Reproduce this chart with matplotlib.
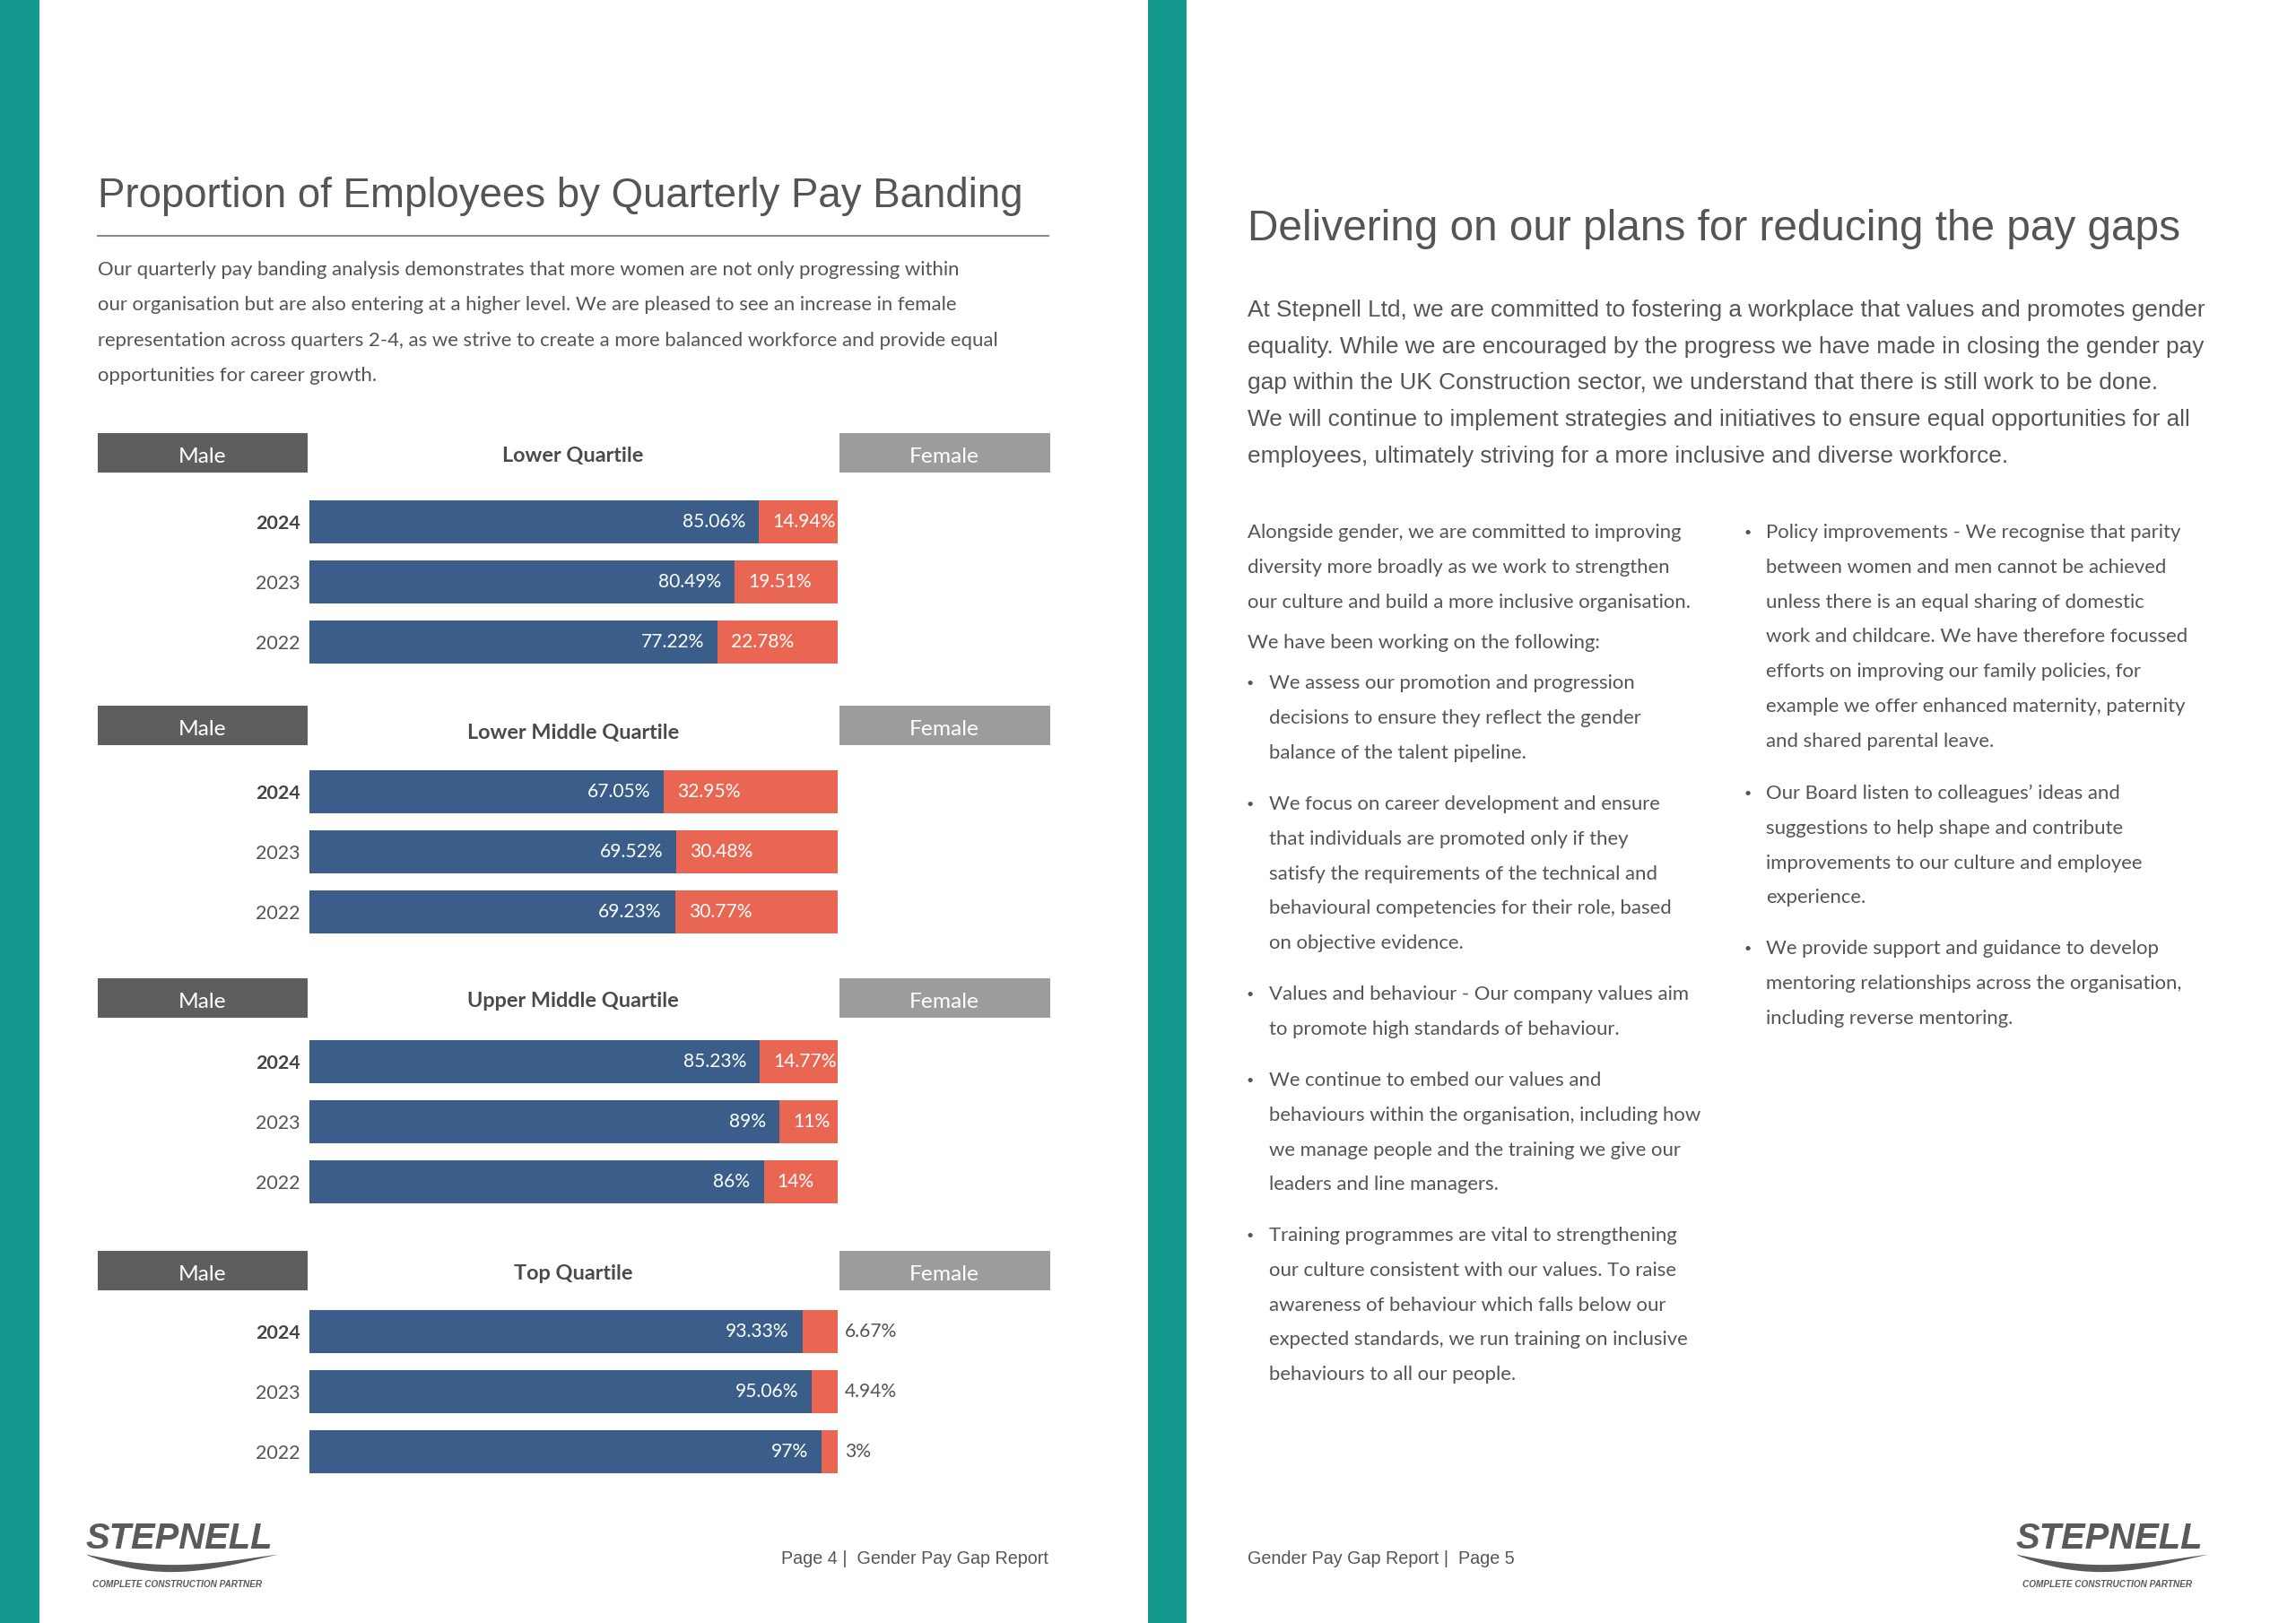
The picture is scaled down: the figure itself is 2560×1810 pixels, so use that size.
import matplotlib.pyplot as plt
from matplotlib.patches import Rectangle
import numpy as np

# data
quartiles = ["Lower Quartile", "Lower Middle Quartile", "Upper Middle Quartile", "Top Quartile"]
years = ["2024", "2023", "2022"]
male = [[85.06, 80.49, 77.22],
        [67.05, 69.52, 69.23],
        [85.23, 89, 86],
        [93.33, 95.06, 97]]
female = [[14.94, 19.51, 22.78],
          [32.95, 30.48, 30.77],
          [14.77, 11, 14],
          [6.67, 4.94, 3]]

def fmt(v):
    s = "%.2f" % v
    s = s.rstrip("0").rstrip(".")
    return s + "%"

# colours
TEAL = "#15998f"
BLUE = "#3a5e89"
CORAL = "#e96652"
MALEBOX = "#5e5e5e"
FEMBOX = "#9c9c9e"
GREY = "#555555"

W, H = 2560, 1810
fig = plt.figure(figsize=(25.6, 18.1), dpi=100)
page = fig.add_axes([0, 0, 1, 1])
page.set_xlim(0, W)
page.set_ylim(H, 0)
page.axis("off")

def pt(px):
    return px * 0.72

BODY = ["Lato", "DejaVu Sans"]
HEAD = ["Liberation Sans", "DejaVu Sans"]

# teal strips
page.add_patch(Rectangle((0, 0), 44, H, color=TEAL, lw=0))
page.add_patch(Rectangle((1280, 0), 43, H, color=TEAL, lw=0))

# ---------- left page ----------
page.text(109, 219, "Proportion of Employees by Quarterly Pay Banding", fontsize=pt(45.6),
          family=HEAD, color=GREY, va="center", ha="left")
page.plot([109, 1169], [263, 263], color="#8a8a8a", lw=1.5)

intro_left = [
    "Our quarterly pay banding analysis demonstrates that more women are not only progressing within",
    "our organisation but are also entering at a higher level. We are pleased to see an increase in female",
    "representation across quarters 2-4, as we strive to create a more balanced workforce and provide equal",
    "opportunities for career growth.",
]
for k, line in enumerate(intro_left):
    page.text(109, 301 + 39.3 * k, line, fontsize=pt(22.2), family=BODY, color=GREY, va="center")

bar_l, bar_r = 345, 934
for q, name in enumerate(quartiles):
    top = 483 + 304 * q
    page.add_patch(Rectangle((109, top), 234, 44, color=MALEBOX, lw=0))
    page.add_patch(Rectangle((936, top), 235, 44, color=FEMBOX, lw=0))
    page.text(226, top + 26, "Male", fontsize=pt(24.5), family=BODY, color="white", ha="center", va="center")
    page.text(1053, top + 26, "Female", fontsize=pt(24.5), family=BODY, color="white", ha="center", va="center")
    page.text(639, top + 25 + (5 if q == 1 else 0), name, fontsize=pt(23.5), family=BODY, weight="bold",
              color="#4a4a4a", ha="center", va="center")

    bt = 558 + 301 * q - 9.5
    ax = fig.add_axes([bar_l / W, 1 - (bt + 201) / H, (bar_r - bar_l) / W, 201 / H])
    y = np.arange(len(years))
    ax.barh(y, male[q], height=48 / 67, color=BLUE, lw=0)
    ax.barh(y, female[q], left=male[q], height=48 / 67, color=CORAL, lw=0)
    ax.set_xlim(0, 100)
    ax.set_ylim(2.5, -0.5)
    for s in ax.spines.values():
        s.set_visible(False)
    ax.set_xticks([])
    ax.set_yticks(y, years)
    ax.tick_params(axis="y", length=0, pad=pt(10), labelsize=pt(21.5), labelcolor=GREY)
    for k, lab in enumerate(ax.get_yticklabels()):
        lab.set_family(BODY)
        if k == 0:
            lab.set_fontweight("bold")
            lab.set_color("#444444")
    ax.patch.set_alpha(0)
    for k in range(len(years)):
        ax.annotate(fmt(male[q][k]), (male[q][k], k), xytext=(-pt(15), 0), textcoords="offset points",
                    ha="right", va="center", color="white", fontsize=pt(21), family=BODY)
        if female[q][k] >= 8:
            ax.annotate(fmt(female[q][k]), (male[q][k], k), xytext=(pt(15), 0), textcoords="offset points",
                        ha="left", va="center", color="white", fontsize=pt(21), family=BODY)
        else:
            ax.annotate(fmt(female[q][k]), (100, k), xytext=(pt(8), 0), textcoords="offset points",
                        ha="left", va="center", color=GREY, fontsize=pt(21), family=BODY, annotation_clip=False)

# footer left
page.text(1169, 1738, "Page 4 |  Gender Pay Gap Report", fontsize=pt(19.8), family=HEAD, color=GREY,
          ha="right", va="center")


def logo(cx):
    page.text(cx, 1716, "STEPNELL", fontsize=pt(40), family=["Liberation Sans Narrow", "Liberation Sans"],
              weight="bold", style="italic", color="#5a5a5a", ha="center", va="center")
    t = np.linspace(0, 1, 60)
    x = cx - 105 + 215 * t
    upper = 1733 + 14 * np.sin(np.pi * t) * (1 - 0.35 * t)
    lower = upper + 8 * np.sin(np.pi * t ** 0.8)
    page.fill_between(x, upper, lower, color="#5a5a5a", lw=0)
    page.text(cx - 2, 1767, "COMPLETE CONSTRUCTION PARTNER", fontsize=pt(10),
              family=["Liberation Sans Narrow", "Liberation Sans"], weight="bold", style="italic",
              color="#5a5a5a", ha="center", va="center")


logo(200)

# ---------- right page ----------
page.text(1391, 256, "Delivering on our plans for reducing the pay gaps", fontsize=pt(47.8),
          family=HEAD, color=GREY, va="center", ha="left")

intro_right = [
    "At Stepnell Ltd, we are committed to fostering a workplace that values and promotes gender",
    "equality. While we are encouraged by the progress we have made in closing the gender pay",
    "gap within the UK Construction sector, we understand that there is still work to be done.",
    "We will continue to implement strategies and initiatives to ensure equal opportunities for all",
    "employees, ultimately striving for a more inclusive and diverse workforce.",
]
for k, line in enumerate(intro_right):
    page.text(1391, 346 + 40.7 * k, line, fontsize=pt(26.2), family=HEAD, color=GREY, va="center")

LS = 38.8
col1 = [
    (594, False, ["Alongside gender, we are committed to improving",
                  "diversity more broadly as we work to strengthen",
                  "our culture and build a more inclusive organisation."]),
    (717, False, ["We have been working on the following:"]),
    (762, True, ["We assess our promotion and progression",
                 "decisions to ensure they reflect the gender",
                 "balance of the talent pipeline."]),
    (897, True, ["We focus on career development and ensure",
                 "that individuals are promoted only if they",
                 "satisfy the requirements of the technical and",
                 "behavioural competencies for their role, based",
                 "on objective evidence."]),
    (1109, True, ["Values and behaviour - Our company values aim",
                  "to promote high standards of behaviour."]),
    (1205, True, ["We continue to embed our values and",
                  "behaviours within the organisation, including how",
                  "we manage people and the training we give our",
                  "leaders and line managers."]),
    (1378, True, ["Training programmes are vital to strengthening",
                  "our culture consistent with our values. To raise",
                  "awareness of behaviour which falls below our",
                  "expected standards, we run training on inclusive",
                  "behaviours to all our people."]),
]
col2 = [
    (594, True, ["Policy improvements - We recognise that parity",
                 "between women and men cannot be achieved",
                 "unless there is an equal sharing of domestic",
                 "work and childcare. We have therefore focussed",
                 "efforts on improving our family policies, for",
                 "example we offer enhanced maternity, paternity",
                 "and shared parental leave."]),
    (885, True, ["Our Board listen to colleagues\u2019 ideas and",
                 "suggestions to help shape and contribute",
                 "improvements to our culture and employee",
                 "experience."]),
    (1058, True, ["We provide support and guidance to develop",
                  "mentoring relationships across the organisation,",
                  "including reverse mentoring."]),
]


def column(blocks, x_text, x_bullet, x_plain):
    for y0, bullet, lines in blocks:
        if bullet:
            page.text(x_bullet, y0, "\u2022", fontsize=pt(14), family=BODY, color=GREY, ha="center", va="center")
        for k, line in enumerate(lines):
            page.text(x_text if bullet else x_plain, y0 + LS * k, line, fontsize=pt(22.2),
                      family=BODY, color=GREY, va="center")


column(col1, 1415, 1394, 1391)
column(col2, 1969, 1949, 1969)

page.text(1391, 1738, "Gender Pay Gap Report |  Page 5", fontsize=pt(19.8), family=HEAD, color=GREY,
          ha="left", va="center")
logo(2352)

fig.savefig("out.png", dpi=100)
